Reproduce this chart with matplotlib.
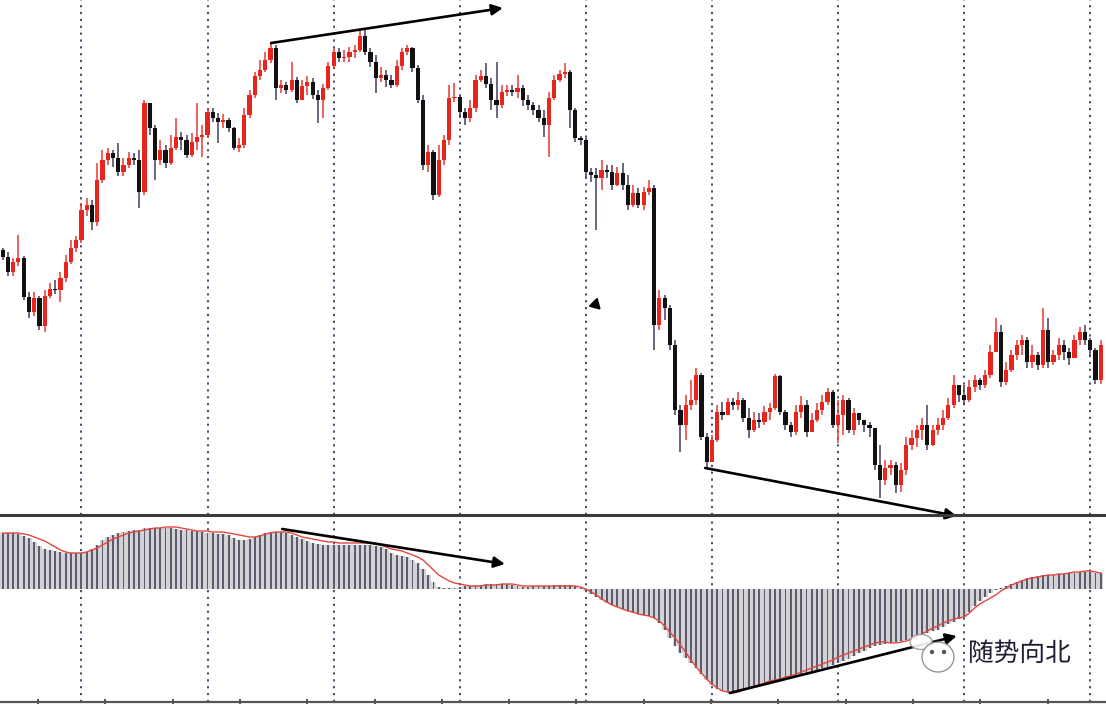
import numpy as np
import matplotlib
matplotlib.use("Agg")
import matplotlib.pyplot as plt
from matplotlib.patches import Ellipse
import matplotlib.patheffects as pe

# ---------------- data ----------------
open0 = 750
closes = [743,728,738,742,703,688,702,674,704,711,710,722,738,752,760,790,795,778,820,840,
          847,842,828,835,842,840,808,897,872,840,850,837,852,863,860,845,858,863,865,888,
          882,878,880,872,852,855,885,905,924,930,940,952,912,915,910,920,900,914,918,905,
          900,912,934,948,942,943,948,950,964,948,938,922,925,920,915,934,948,952,932,900,
          835,848,805,840,860,902,903,888,882,892,920,924,916,900,895,908,910,908,912,900,
          895,890,882,875,902,920,926,928,890,862,860,828,825,822,830,828,815,827,815,795,
          807,795,808,812,675,702,692,655,590,575,595,600,625,563,538,560,588,585,598,595,
          600,582,570,580,578,588,592,624,588,575,568,588,595,568,580,590,598,608,575,585,
          600,570,587,580,575,572,535,520,532,535,515,530,555,562,570,575,555,570,575,582,
          595,615,605,600,613,620,615,625,648,668,618,630,645,655,660,638,645,635,670,638,
          645,655,648,642,660,668,660,650,620,655]
highs = [752,748,742,765,744,708,708,704,710,717,720,728,745,760,764,797,802,800,837,850,
         852,850,857,842,848,847,850,900,897,875,860,855,865,882,868,865,867,897,875,892,
         892,887,886,882,873,862,892,910,928,940,948,957,955,920,918,938,923,920,924,922,
         910,916,938,952,952,950,953,955,970,972,952,945,933,930,925,940,952,955,953,935,
         905,855,850,855,865,915,917,905,892,900,925,930,937,922,938,915,915,915,925,915,
         905,898,895,890,908,925,930,937,930,892,864,862,832,832,840,835,835,833,837,825,
         815,812,813,820,815,710,705,695,660,595,605,620,632,627,567,565,595,598,602,602,
         608,602,592,588,587,594,597,626,625,590,578,595,604,600,587,597,605,612,610,600,
         605,602,592,585,580,578,570,555,540,540,538,537,563,570,575,582,595,575,582,590,
         602,625,612,615,620,625,622,630,655,682,675,638,650,660,665,663,655,648,692,682,
         650,662,660,652,665,673,675,662,652,660]
lows = [740,724,724,734,700,682,684,670,668,702,706,698,718,736,748,757,784,770,774,817,
        835,833,824,824,832,835,792,805,865,820,835,832,835,850,850,842,843,850,843,862,
        878,857,872,868,850,848,852,882,902,920,928,937,900,907,906,908,897,900,905,901,
        877,882,910,932,938,938,938,942,948,945,933,907,918,913,912,913,930,945,928,897,
        830,828,800,803,835,855,898,882,875,878,888,918,912,890,882,892,904,904,902,894,
        890,885,878,863,843,900,918,922,872,858,855,822,818,770,810,822,810,814,810,790,
        793,792,790,805,650,670,680,650,585,548,560,590,595,560,532,538,558,580,585,590,
        590,578,562,568,572,575,580,590,585,570,563,565,582,563,570,578,585,595,572,557,
        565,567,565,575,568,563,530,502,515,525,507,508,525,550,553,560,550,554,565,570,
        580,592,598,595,598,608,610,612,622,650,613,615,628,640,645,632,632,630,632,632,
        635,640,640,635,645,655,655,644,616,616]

macd_hist = [56,56,56,55,53,51,47,43,40,39,38,37,36,36,36,36,37,40,44,49,
             52,54,56,57,58,59,59,61,61,61,61,61,61,60,59,59,58,58,57,56,
             56,55,55,54,51,49,49,50,52,54,56,57,57,57,56,54,52,50,48,46,
             45,44,44,44,44,44,44,44,44,44,44,43,42,40,36,34,33,32,29,26,
             20,14,7,2,1,1,1,2,3,3,4,4,5,5,5,5,5,4,3,2,
             2,3,3,3,3,4,4,4,4,3,1,-2,-5,-8,-11,-14,-16,-18,-20,-22,
             -24,-25,-26,-27,-29,-34,-41,-49,-57,-64,-69,-74,-79,-85,-91,-96,-100,-102,-103,-103,
             -101,-100,-99,-97,-96,-95,-93,-92,-91,-89,-88,-87,-86,-84,-83,-81,-79,-78,-76,-74,
             -72,-70,-67,-64,-62,-59,-57,-56,-55,-54,-53,-52,-51,-50,-48,-46,-44,-42,-41,-38,
             -35,-33,-30,-28,-23,-17,-12,-8,-4,-1,1,3,5,7,9,11,12,13,14,14,
             14,15,15,16,16,17,17,17,16,16]
macd_signal = [56,56,56,56,55,54,52,50,48,45,42,39,37,36,36,36,37,39,41,44,
               47,50,52,54,56,57,58,59,60,61,61,62,62,62,61,60,59,58,58,58,
               57,57,57,56,55,54,53,52,52,53,55,56,57,57,57,56,54,52,51,50,
               49,48,47,47,46,46,46,46,46,46,46,45,44,42,40,39,38,36,34,32,
               29,24,19,14,11,8,6,5,4,3,3,3,4,4,4,5,5,5,4,3,
               3,3,3,3,3,3,3,3,3,3,2,0,-3,-6,-10,-13,-16,-18,-20,-22,
               -23,-25,-26,-27,-29,-32,-37,-43,-49,-56,-63,-71,-78,-84,-90,-95,-99,-102,-103,-104,
               -103,-101,-99,-97,-96,-94,-92,-91,-90,-88,-87,-85,-83,-81,-79,-77,-75,-73,-71,-68,
               -66,-64,-62,-60,-58,-56,-54,-53,-53,-54,-54,-53,-52,-50,-48,-45,-42,-39,-37,-34,
               -32,-30,-29,-28,-24,-19,-15,-12,-9,-6,-2,1,4,6,8,10,11,12,13,14,
               14,15,15,16,17,17,18,18,17,16]

# time-grid positions (bar index) and drawn trend arrows (start/end in bar, value)
grid_bars = [15, 39, 63, 87, 111, 135, 159, 183, 207]
price_arrows = [((51.1, 957), (95.2, 992)), ((133.7, 532), (181.6, 484))]
macd_arrows = [((53.2, 60), (95.6, 25)), ((138.4, -104), (181.6, -47))]
cursor_mark = (112.7, 696)
watermark = "随势向北"

# ---------------- figure ----------------
W, H = 1106, 704
fig = plt.figure(figsize=(W / 100, H / 100), dpi=100)
fig.patch.set_facecolor("white")

top_h = 515 / H
ax1 = fig.add_axes([0, 1 - top_h, 1, top_h])
ax2 = fig.add_axes([0, 1 - 702 / H, 1, (702 - 515) / H])
for ax in (ax1, ax2):
    ax.set_facecolor("none")
    ax.set_xlim(-0.5, 210)
    for s in ax.spines.values():
        s.set_visible(False)
    ax.set_yticks([])

ax1.set_ylim(485, 1000)
ax2.set_ylim(-113, 74)
ax1.set_xticks([])

n = len(closes)
x = np.arange(n)
c = np.array(closes, float)
o = np.concatenate([[open0], c[:-1]])
hi = np.maximum(np.array(highs, float), np.maximum(o, c))
lo = np.minimum(np.array(lows, float), np.minimum(o, c))
up = c >= o

RED = "#e8241e"
BLK = "#111111"

# grid
for g in grid_bars:
    for ax in (ax1, ax2):
        ax.axvline(g, color="#3a3a60", lw=1.3, ls=(0, (1.2, 2.6)), zorder=0)

# candles
ax1.vlines(x[up], lo[up], hi[up], color="#e43a34", lw=1.1, zorder=2)
ax1.vlines(x[~up], lo[~up], hi[~up], color="#433d5c", lw=1.1, zorder=2)
body_b = np.minimum(o, c)
body_h = np.maximum(np.abs(c - o), 1.5)
ax1.bar(x[up], body_h[up], bottom=body_b[up], width=0.8, color=RED, zorder=3, linewidth=0)
ax1.bar(x[~up], body_h[~up], bottom=body_b[~up], width=0.8, color=BLK, zorder=3, linewidth=0)

# MACD
hist = np.array(macd_hist, float)
ax2.bar(x, hist, width=1.0, color="#d3d3d6", linewidth=0, zorder=1)
ax2.bar(x, hist, width=0.36, color="#5c5c6e", linewidth=0, zorder=2)
ax2.plot(x, macd_signal, color="#e2463f", lw=1.0, zorder=3)

# separators
ax2.spines["top"].set_visible(True)
ax2.spines["top"].set_color("#3a3a3a")
ax2.spines["top"].set_linewidth(2.2)
ax2.spines["bottom"].set_visible(True)
ax2.spines["bottom"].set_color("#555555")
ax2.spines["bottom"].set_linewidth(1.6)
ax2.set_xticks(np.arange(6.73, 210, 12.81))
ax2.set_xticklabels([])
ax2.tick_params(axis="x", direction="inout", length=5, width=1.2, color="#333333")

# trend arrows
for ax, arrows in ((ax1, price_arrows), (ax2, macd_arrows)):
    for (s, e) in arrows:
        ax.annotate("", xy=e, xytext=s,
                    arrowprops=dict(arrowstyle="-|>", color="black", lw=1.9,
                                    mutation_scale=16, shrinkA=0, shrinkB=0),
                    annotation_clip=False, zorder=6)

ax1.plot(*cursor_mark, marker=(3, 0, -135), ms=9, color="black", zorder=6)

# watermark (logo + text)
def fx(px):
    return px / W

def fy(py):
    return 1 - py / H

fig.add_artist(Ellipse((fx(921), fy(642)), 22 / W, 15 / H, facecolor="white",
                       edgecolor="#9a9a9a", lw=1.0, alpha=0.9))
fig.add_artist(Ellipse((fx(938), fy(657)), 32 / W, 30 / H, facecolor="white",
                       edgecolor="#8a8a8a", lw=1.0, alpha=0.9))
fig.add_artist(Ellipse((fx(932), fy(652)), 3 / W, 3 / H, color="#555555"))
fig.add_artist(Ellipse((fx(944), fy(652)), 3 / W, 3 / H, color="#555555"))
fig.text(fx(968), fy(654), watermark, fontsize=18.5, color="#1f1c33",
         family=["Noto Sans CJK SC", "DejaVu Sans"], ha="left", va="center",
         path_effects=[pe.withStroke(linewidth=3, foreground="white")])

fig.savefig("out.png", dpi=100, facecolor="white")
